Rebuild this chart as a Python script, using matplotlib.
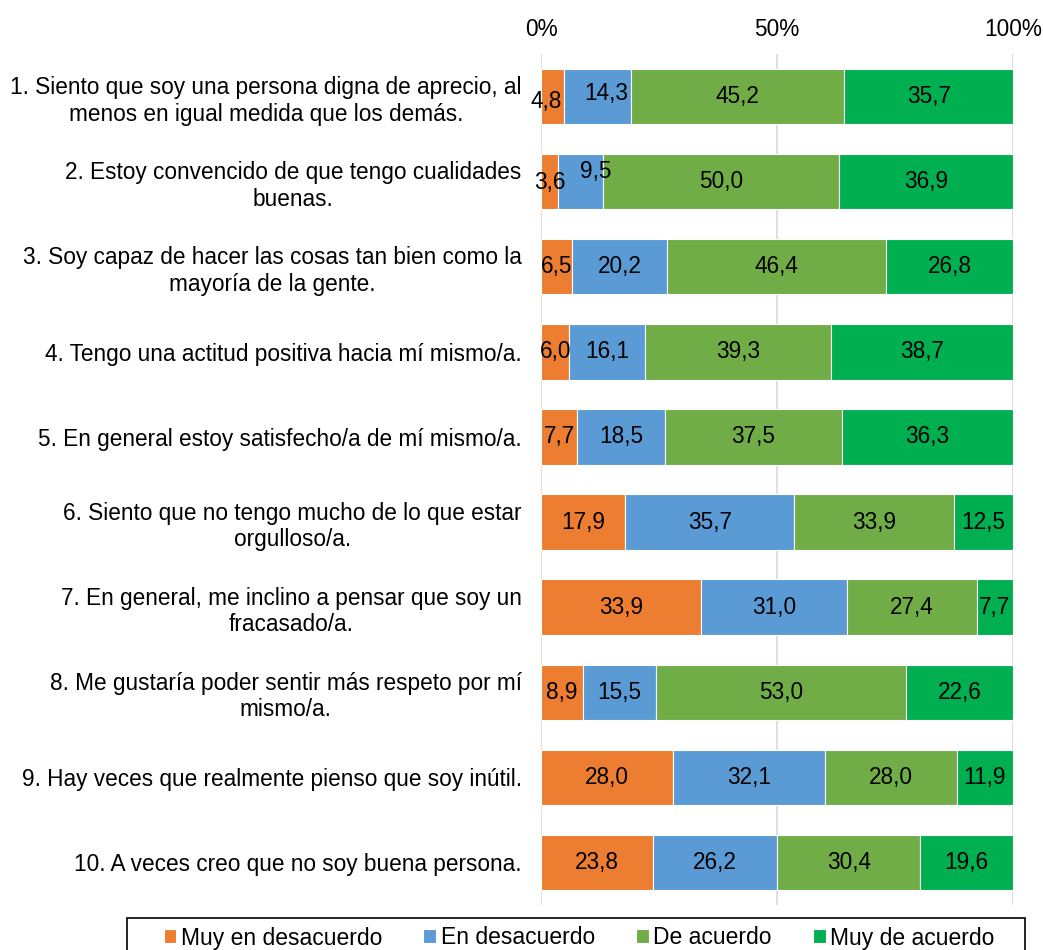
import matplotlib.pyplot as plt
from matplotlib.patches import Rectangle
import numpy as np

plt.rcParams['font.family'] = ['Liberation Sans', 'DejaVu Sans']

items = [
    '1. Siento que soy una persona digna de aprecio, al\nmenos en igual medida que los demás.',
    '2. Estoy convencido de que tengo cualidades\nbuenas.',
    '3. Soy capaz de hacer las cosas tan bien como la\nmayoría de la gente.',
    '4. Tengo una actitud positiva hacia mí mismo/a.',
    '5. En general estoy satisfecho/a de mí mismo/a.',
    '6. Siento que no tengo mucho de lo que estar\norgulloso/a.',
    '7. En general, me inclino a pensar que soy un\nfracasado/a.',
    '8. Me gustaría poder sentir más respeto por mí\nmismo/a.',
    '9. Hay veces que realmente pienso que soy inútil.',
    '10. A veces creo que no soy buena persona.',
]

muy_desacuerdo = [4.8, 3.6, 6.5, 6.0, 7.7, 17.9, 33.9, 8.9, 28.0, 23.8]
desacuerdo = [14.3, 9.5, 20.2, 16.1, 18.5, 35.7, 31.0, 15.5, 32.1, 26.2]
de_acuerdo = [45.2, 50.0, 46.4, 39.3, 37.5, 33.9, 27.4, 53.0, 28.0, 30.4]
muy_acuerdo = [35.7, 36.9, 26.8, 38.7, 36.3, 12.5, 7.7, 22.6, 11.9, 19.6]

series = [
    ('Muy en desacuerdo', muy_desacuerdo, '#ED7D31'),
    ('En desacuerdo', desacuerdo, '#5B9BD5'),
    ('De acuerdo', de_acuerdo, '#70AD47'),
    ('Muy de acuerdo', muy_acuerdo, '#00B050'),
]

# label nudges (pixels) where labels crowd each other: (row, series) -> (dx, dy)
nudges = {(0, 0): (-6, -5), (0, 1): (9, 3), (1, 0): (0, -1), (1, 1): (15, 10)}

FS = 16.3
W, H = 1043, 950
fig = plt.figure(figsize=(W / 100, H / 100), dpi=100)
ax = fig.add_axes([541 / W, 1 - 905 / H, 472 / W, 851 / H])

y = np.arange(len(items))
total = (np.array(muy_desacuerdo) + np.array(desacuerdo)
         + np.array(de_acuerdo) + np.array(muy_acuerdo))
left = np.zeros(len(items))
for si, (name, vals, color) in enumerate(series):
    vals = np.array(vals)
    widths = vals / total * 100
    ax.barh(y, widths, left=left, height=0.65, color=color,
            edgecolor='white', linewidth=0.8, label=name, zorder=3)
    for yi, l, w, v in zip(y, left, widths, vals):
        dx, dy = nudges.get((yi, si), (0, 0))
        ax.annotate(f'{v:.1f}'.replace('.', ','), (l + w / 2, yi),
                    xytext=(dx * 0.72, dy * 0.72), textcoords='offset points',
                    ha='center', va='center', fontsize=FS, color='black', zorder=4)
    left = left + widths

ax.set_xlim(0, 100)
ax.set_ylim(len(items) - 0.5, -0.5)
ax.set_yticks(y)
ax.set_yticklabels(items, fontsize=FS, linespacing=1.2, multialignment='center')
ax.set_xticks([0, 50, 100])
ax.set_xticklabels(['0%', '50%', '100%'], fontsize=FS)
ax.xaxis.tick_top()
ax.tick_params(axis='both', length=0)
ax.tick_params(axis='y', pad=14)
ax.tick_params(axis='x', pad=9.5)
ax.grid(axis='x', color='#D9D9D9', linewidth=1.2, zorder=0)
for s in ax.spines.values():
    s.set_visible(False)

# legend frame (runs past the bottom edge, as in the original)
fig.patches.append(Rectangle((127 / W, -0.02), 898 / W, (950 - 918) / H + 0.02,
                             transform=fig.transFigure, fill=False,
                             edgecolor='black', linewidth=1.2))
fig.legend(loc='center', bbox_to_anchor=(579 / W, 1 - 938 / H), ncol=4,
           fontsize=16.5, frameon=False, handlelength=0.55, handleheight=0.55,
           handletextpad=0.2, borderpad=0, columnspacing=1.8)

fig.savefig('out.png', dpi=100)
